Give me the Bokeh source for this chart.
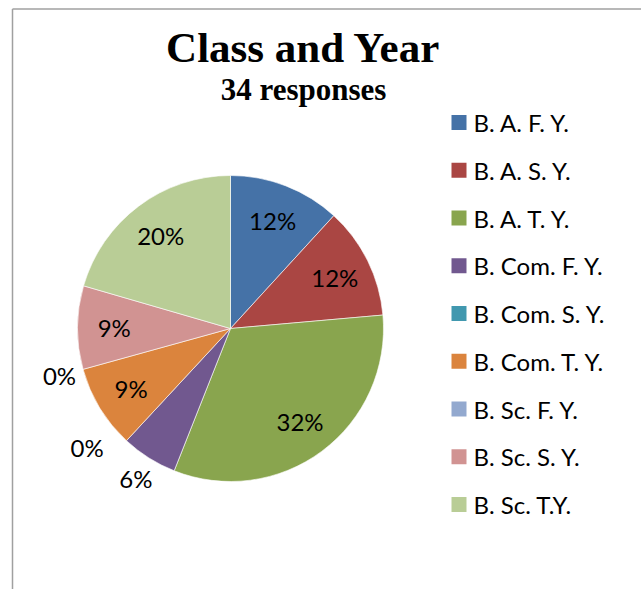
import math
from bokeh.plotting import figure
from bokeh.models import Range1d, ColumnDataSource
from bokeh.core.properties import value
from bokeh.embed import file_html
from bokeh.resources import INLINE

# ---- data ----
categories = ["B. A. F. Y.", "B. A. S. Y.", "B. A. T. Y.", "B. Com. F. Y.", "B. Com. S. Y.",
              "B. Com. T. Y.", "B. Sc. F. Y.", "B. Sc. S. Y.", "B. Sc. T.Y."]
shares = [11.8, 11.8, 32.4, 5.9, 0.0, 8.8, 0.0, 8.8, 20.5]
pct_labels = ["12%", "12%", "32%", "6%", "0%", "9%", "0%", "9%", "20%"]
colors = ["#4572A7", "#AA4643", "#89A54E", "#71588F", "#4198AF",
          "#DB843D", "#93A9CF", "#D19392", "#B9CD96"]
title = "Class and Year"
subtitle = "34 responses"

W, H = 641, 589
p = figure(width=W, height=H, output_backend="svg", toolbar_location=None,
           x_range=Range1d(0, W), y_range=Range1d(0, H), min_border=0)
p.axis.visible = False
p.grid.visible = False
p.outline_line_color = None
p.background_fill_color = "white"

def px(X):  # picture x -> data x
    return X
def py(Y):  # picture y -> data y
    return H - Y

# border
p.line([px(12), px(12)], [py(589), py(8.5)], line_color="#a0a0a0", line_width=1.5)
p.line([px(12), px(641)], [py(8.5), py(8.5)], line_color="#a0a0a0", line_width=1.5)

# pie
cx, cy, r = px(230), py(328), 153
total = sum(shares)
starts, ends, mids = [], [], []
a = math.pi / 2
for v in shares:
    sweep = 2 * math.pi * v / total
    starts.append(a)
    ends.append(a - sweep)
    mids.append(a - sweep / 2)
    a -= sweep
keep = [i for i, v in enumerate(shares) if v > 0]
src = ColumnDataSource(dict(start=[starts[i] for i in keep], end=[ends[i] for i in keep],
                            color=[colors[i] for i in keep]))
p.wedge(x=cx, y=cy, radius=r, start_angle="start", end_angle="end", direction="clock",
        fill_color="color", line_color="white", line_width=0.6, source=src)

# labels
lx, ly = [], []
prev_out = None
for v, m in zip(shares, mids):
    if v >= 7:
        d = 0.76 * r
        ang = m
    else:
        d = 1.16 * r
        ang = m
        if prev_out is not None and prev_out - ang < math.radians(15):
            ang = prev_out - math.radians(18)
            d = 1.22 * r
        prev_out = ang
    lx.append(cx + d * math.cos(ang))
    ly.append(cy + d * math.sin(ang))
p.text(x=lx, y=ly, text=pct_labels, text_font=value("Lato"), text_font_size="24px",
       text_align="center", text_baseline="middle", text_color="black")

# title
p.text(x=[px(303)], y=[py(47)], text=[title], text_font=value("Liberation Serif"),
       text_font_style="bold", text_font_size="43px", text_align="center",
       text_baseline="middle", text_color="black")
p.text(x=[px(303)], y=[py(89)], text=[subtitle], text_font=value("Liberation Serif"),
       text_font_style="bold", text_font_size="31px", text_align="center",
       text_baseline="middle", text_color="black")

# legend
ys = [py(122 + 47.75 * i) for i in range(len(categories))]
p.rect(x=[px(458.5)] * len(categories), y=ys, width=15, height=15,
       fill_color=colors, line_color=None)
p.text(x=[px(473)] * len(categories), y=ys, text=categories, text_font=value("Lato"),
       text_font_size="24px", text_align="left", text_baseline="middle", text_color="black")

open("out.html", "w").write(file_html(p, INLINE))
